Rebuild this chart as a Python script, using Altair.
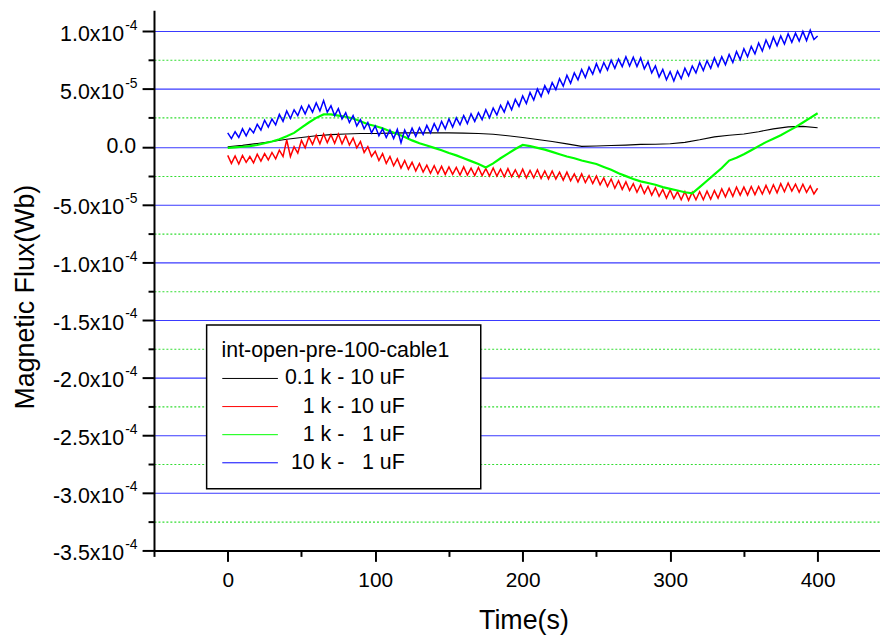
import altair as alt
import numpy as np
import pandas as pd

FONT = "Liberation Sans"

# ---- series (values in units of 1e-5 Wb) ----
SERIES = ["0.1 k - 10 uF", "1 k - 10 uF",
          "1 k -\u00a0\u00a0\u00a01 uF", "10 k -\u00a0\u00a0\u00a01 uF"]
COLORS = ["#000000", "#ff0000", "#00ff00", "#0000ff"]
LEGEND_TITLE = "int-open-pre-100-cable1"

# 0.1 k - 10 uF, every 10 s from 0 to 400
BLACK = [0.0, 0.12, 0.28, 0.45, 0.65, 0.8, 0.95, 1.05, 1.1, 1.15,
         1.15, 1.18, 1.2, 1.2, 1.2, 1.2, 1.18, 1.15, 1.08, 0.95,
         0.8, 0.62, 0.45, 0.25, 0.03, 0.06, 0.1, 0.14, 0.2, 0.22,
         0.26, 0.38, 0.6, 0.85, 1.0, 1.1, 1.3, 1.55, 1.72, 1.76,
         1.65]

# 1 k - 10 uF, every 2.5 s from 0 to 400
RED = [-0.75, -1.45, -0.8, -1.5, -0.75, -1.35, -0.85, -1.4, -0.65, -1.25,
       -0.6, -1.15, -0.5, -1.05, -0.3, -0.85, 0.6, -0.85, 0.0, -0.55,
       0.55, -0.1, 0.85, 0.2, 1.0, 0.25, 1.1, 0.35, 1.05, 0.3,
       1.1, 0.25, 0.95, 0.15, 0.75, -0.1, 0.45, -0.5, 0.0, -0.85,
       -0.4, -1.2, -0.6, -1.45, -0.85, -1.65, -1.05, -1.85, -1.2, -1.95,
       -1.35, -2.1, -1.45, -2.2, -1.6, -2.3, -1.65, -2.35, -1.7, -2.4,
       -1.75, -2.4, -1.8, -2.45, -1.75, -2.45, -1.85, -2.5, -1.8, -2.5,
       -1.9, -2.55, -1.85, -2.55, -1.95, -2.6, -1.9, -2.6, -2.0, -2.65,
       -1.95, -2.7, -2.05, -2.7, -2.0, -2.75, -2.1, -2.8, -2.1, -2.8,
       -2.2, -2.9, -2.2, -2.95, -2.35, -3.05, -2.35, -3.1, -2.5, -3.2,
       -2.55, -3.3, -2.7, -3.45, -2.8, -3.6, -2.95, -3.7, -3.05, -3.8,
       -3.2, -3.95, -3.3, -4.05, -3.45, -4.2, -3.55, -4.3, -3.7, -4.45,
       -3.75, -4.5, -3.9, -4.6, -3.9, -4.65, -3.95, -4.6, -3.9, -4.6,
       -3.85, -4.55, -3.8, -4.45, -3.65, -4.35, -3.6, -4.3, -3.5, -4.2,
       -3.5, -4.2, -3.45, -4.15, -3.45, -4.1, -3.35, -4.05, -3.3, -4.0,
       -3.2, -3.9, -3.15, -3.85, -3.25, -3.95, -3.25, -3.95, -3.4, -4.1,
       -3.6]

# 1 k - 1 uF, every 5 s from 0 to 400
GREEN = [-0.1, -0.05, 0.0, 0.05, 0.15, 0.3, 0.45, 0.65, 0.9, 1.2,
         1.65, 2.1, 2.5, 2.8, 2.8, 2.7, 2.6, 2.45, 2.2, 1.95,
         1.8, 1.6, 1.35, 1.1, 0.85, 0.55, 0.3, 0.1, -0.1, -0.3,
         -0.55, -0.75, -1.0, -1.25, -1.5, -1.8, -1.45, -1.0, -0.6, -0.2,
         0.15, 0.05, -0.1, -0.25, -0.45, -0.65, -0.85, -1.0, -1.2, -1.35,
         -1.5, -1.75, -2.0, -2.3, -2.55, -2.8, -3.0, -3.15, -3.3, -3.5,
         -3.65, -3.8, -3.95, -4.05, -3.5, -2.95, -2.4, -1.85, -1.2, -0.95,
         -0.65, -0.3, 0.05, 0.4, 0.7, 1.0, 1.35, 1.7, 2.1, 2.5,
         2.9]

# 10 k - 1 uF, every 2.5 s from 0 to 400
BLUE = [1.2, 0.7, 1.3, 0.8, 1.55, 0.95, 1.6, 1.2, 1.95, 1.45,
        2.3, 1.7, 2.4, 1.9, 2.8, 2.2, 3.1, 2.45, 3.2, 2.7,
        3.5, 2.85, 3.6, 3.0, 3.8, 3.1, 4.0, 3.0, 3.55, 2.7,
        3.3, 2.4, 2.95, 2.1, 2.7, 1.8, 2.35, 1.55, 2.1, 1.2,
        1.8, 0.95, 1.55, 0.8, 1.45, 0.7, 1.5, 0.35, 1.45, 0.8,
        1.6, 0.9, 1.65, 1.05, 1.85, 1.2, 2.0, 1.35, 2.2, 1.55,
        2.4, 1.7, 2.5, 1.9, 2.7, 2.0, 2.85, 2.2, 2.95, 2.35,
        3.2, 2.5, 3.35, 2.75, 3.6, 3.0, 3.9, 3.2, 4.1, 3.5,
        4.4, 3.75, 4.7, 4.05, 5.0, 4.35, 5.3, 4.65, 5.55, 4.95,
        5.9, 5.25, 6.2, 5.5, 6.4, 5.8, 6.7, 6.0, 6.9, 6.3,
        7.2, 6.45, 7.3, 6.65, 7.5, 6.8, 7.6, 6.95, 7.8, 7.0,
        7.75, 6.95, 7.7, 6.75, 7.35, 6.4, 7.0, 6.05, 6.7, 5.8,
        6.5, 5.7, 6.55, 5.9, 6.8, 6.15, 7.0, 6.4, 7.3, 6.6,
        7.45, 6.8, 7.7, 6.95, 7.8, 7.1, 8.0, 7.3, 8.25, 7.55,
        8.5, 7.8, 8.7, 8.05, 9.0, 8.3, 9.25, 8.55, 9.5, 8.75,
        9.6, 8.9, 9.8, 9.05, 9.85, 9.15, 10.0, 9.2, 10.1, 9.3,
        9.6]

# ---- axis ticks / labels ----
X_TICKS = [-50, 0, 50, 100, 150, 200, 250, 300, 350, 400]
Y_ALL_TICKS = [-3.5e-4, -3.25e-4, -3.0e-4, -2.75e-4, -2.5e-4, -2.25e-4,
               -2.0e-4, -1.75e-4, -1.5e-4, -1.25e-4, -1.0e-4, -7.5e-5,
               -5.0e-5, -2.5e-5, 0.0, 2.5e-5, 5.0e-5, 7.5e-5, 1.0e-4]
Y_TICKS = [1.0e-4, 5.0e-5, 0.0, -5.0e-5, -1.0e-4, -1.5e-4,
           -2.0e-4, -2.5e-4, -3.0e-4, -3.5e-4]
Y_BASE = ["1.0x10", "5.0x10", "0.0", "-5.0x10", "-1.0x10", "-1.5x10",
          "-2.0x10", "-2.5x10", "-3.0x10", "-3.5x10"]
Y_EXP = ["-4", "-5", "", "-5", "-4", "-4", "-4", "-4", "-4", "-4"]


def series_frame(vals, name):
    t = np.linspace(0, 400, len(vals))
    return pd.DataFrame({"t": t, "flux": np.array(vals) * 1e-5, "series": name})


df = pd.concat([series_frame(BLACK, SERIES[0]), series_frame(RED, SERIES[1]),
                series_frame(GREEN, SERIES[2]), series_frame(BLUE, SERIES[3])],
               ignore_index=True)
ydf = pd.DataFrame({"flux": Y_TICKS, "base": Y_BASE, "exp": Y_EXP})

MAJOR_Y = "abs(round(datum.value / 2.5e-5)) % 2 === 0"

X = alt.X("t:Q",
          scale=alt.Scale(domain=[-50, 442.3], nice=False, zero=False),
          axis=alt.Axis(values=X_TICKS, title="Time(s)", titleFont=FONT,
                        titleFontSize=27, titleFontWeight="normal",
                        titleColor="black", titleX=372, titleY=79,
                        titleBaseline="alphabetic", titleAlign="center",
                        labelExpr="datum.value % 100 === 0 && datum.value >= 0 ? datum.label : ''",
                        labelFont=FONT, labelFontSize=21, labelColor="black",
                        labelPadding=8, labelOverlap=False, labelFlush=False,
                        tickSize={"condition": {"test": "datum.value % 100 === 0", "value": 11}, "value": 6},
                        tickWidth=2, tickColor="black",
                        domainColor="black", domainWidth=2, grid=False))

Y = alt.Y("flux:Q",
          scale=alt.Scale(domain=[-3.5e-4, 1.184e-4], nice=False, zero=False),
          axis=alt.Axis(values=Y_ALL_TICKS, labels=False,
                        title="Magnetic Flux(Wb)", titleFont=FONT,
                        titleFontSize=27, titleFontWeight="normal",
                        titleColor="black", titleAngle=270,
                        titleAlign="center", titleBaseline="alphabetic",
                        titleX=-121.7, titleY=288.5,
                        tickSize={"condition": {"test": MAJOR_Y, "value": 12}, "value": 6},
                        tickWidth=2, tickColor="black",
                        domainColor="black", domainWidth=2, grid=True,
                        gridColor={"condition": {"test": MAJOR_Y, "value": "#3a3aff"}, "value": "#33dd33"},
                        gridDash={"condition": {"test": MAJOR_Y, "value": []}, "value": [2, 2]},
                        gridWidth=1.1))

COLOR = alt.Color("series:N",
                  scale=alt.Scale(domain=SERIES, range=COLORS),
                  legend=alt.Legend(orient="none", legendX=53, legendY=317,
                                    direction="vertical",
                                    title=LEGEND_TITLE + "\u2800",
                                    titleFont=FONT, titleFontSize=21.5,
                                    titleFontWeight="normal", titleColor="black",
                                    titlePadding=6.6, titleLimit=500,
                                    labelFont=FONT, labelFontSize=21.5,
                                    labelColor="black", labelAlign="right",
                                    labelOffset=145, labelLimit=400,
                                    symbolType="M-4,0H4", symbolSize=196,
                                    symbolOffset=18,
                                    symbolStrokeWidth=1, rowPadding=5.3,
                                    padding=15, strokeColor="black",
                                    fillColor="white", cornerRadius=0))

WIDTHS = [1.1, 1.5, 2.2, 1.5]
lines = []
for name, w in zip(SERIES, WIDTHS):
    lines.append(
        alt.Chart(df).transform_filter(alt.datum.series == name)
        .mark_line(strokeWidth=w)
        .encode(x=X, y=Y, color=COLOR, order="t:Q")
    )

base_txt = (alt.Chart(ydf).transform_filter("datum.exp != ''")
            .mark_text(align="right", baseline="alphabetic", dy=10,
                       fontSize=21.5, font=FONT, color="black")
            .encode(x=alt.value(-30), y=Y, text="base:N"))
zero_txt = (alt.Chart(ydf).transform_filter("datum.exp == ''")
            .mark_text(align="right", baseline="alphabetic", dy=6.5,
                       fontSize=21.5, font=FONT, color="black")
            .encode(x=alt.value(-18), y=Y, text="base:N"))
exp_txt = (alt.Chart(ydf).transform_filter("datum.exp != ''")
           .mark_text(align="left", baseline="alphabetic", dy=-1.5,
                      fontSize=14, font=FONT, color="black")
           .encode(x=alt.value(-29), y=Y, text="exp:N"))

chart = (alt.layer(*lines, base_txt, zero_txt, exp_txt)
         .properties(width=731, height=544,
                     autosize=alt.AutoSizeParams(type="none"),
                     padding={"left": 147, "top": 0, "right": 0, "bottom": 85},
                     background="white")
         .configure_view(stroke="transparent")
         .configure_legend(strokeWidth=1.5))

chart.save("out.html", embed_options={"renderer": "svg", "actions": False})
